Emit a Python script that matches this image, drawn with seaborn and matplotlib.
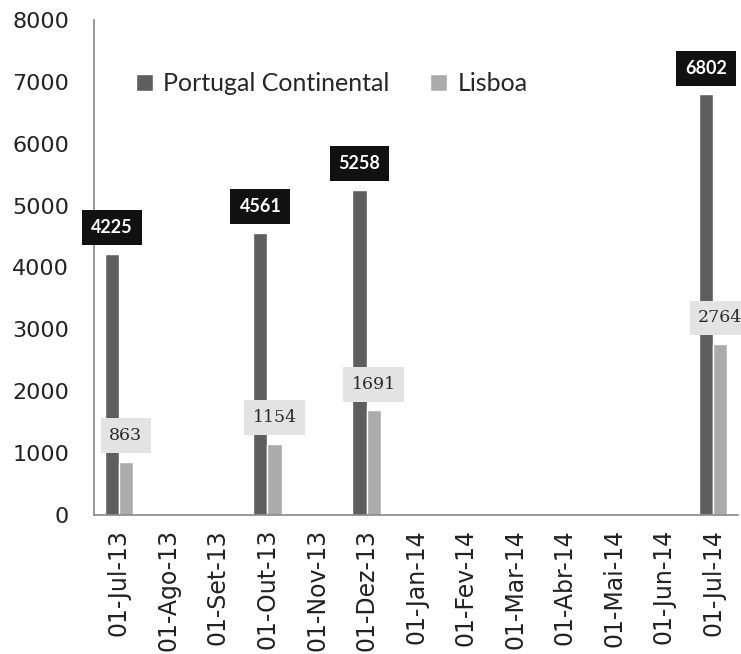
import numpy as np
import matplotlib.pyplot as plt
import pandas as pd
import seaborn as sns
from matplotlib.ticker import FixedLocator

# dados
datas = [
    "01-Jul-13", "01-Ago-13", "01-Set-13", "01-Out-13", "01-Nov-13",
    "01-Dez-13", "01-Jan-14", "01-Fev-14", "01-Mar-14", "01-Abr-14",
    "01-Mai-14", "01-Jun-14", "01-Jul-14",
]
nan = np.nan
portugal = [4225, nan, nan, 4561, nan, 5258, nan, nan, nan, nan, nan, nan, 6802]
lisboa = [863, nan, nan, 1154, nan, 1691, nan, nan, nan, nan, nan, nan, 2764]
series = ["Portugal Continental", "Lisboa"]
y_ticks = [0, 1000, 2000, 3000, 4000, 5000, 6000, 7000, 8000]

sns.set_style("white")
plt.rcParams["font.family"] = ["DejaVu Sans"]

df = pd.DataFrame(
    {
        "data": datas * 2,
        "valor": portugal + lisboa,
        "serie": [series[0]] * len(datas) + [series[1]] * len(datas),
    }
)

palette = {series[0]: "#5e5e5e", series[1]: "#ababab"}

fig = plt.figure(figsize=(7.41, 6.54), dpi=100)
ax = fig.add_axes([0.127, 0.2125, 0.869, 0.757])

sns.barplot(
    data=df,
    x="data",
    y="valor",
    hue="serie",
    order=datas,
    hue_order=series,
    palette=palette,
    width=0.57,
    saturation=1,
    errorbar=None,
    ax=ax,
)

# rotulos
for serie, cont in zip(series, ax.containers):
    for bar in cont:
        h = bar.get_height()
        if np.isnan(h) or h == 0:
            continue
        cx = bar.get_x() + bar.get_width() / 2
        if serie == series[0]:
            ax.text(
                cx, h + 420, f"{int(h)}", ha="center", va="center",
                fontsize=13, fontweight="bold", color="white", family="Lato",
                bbox=dict(boxstyle="square,pad=0.5", fc="#111111", ec="none"),
            )
        else:
            ax.text(
                cx, h + 420, f"{int(h)}", ha="center", va="center",
                fontsize=12.5, color="#2a2a2a", family="DejaVu Serif",
                bbox=dict(boxstyle="square,pad=0.5", fc="#e3e3e3", ec="none"),
            )

ax.set_xlim(-0.5, len(datas) - 0.5)
ax.set_ylim(0, 8000)
ax.set_yticks(y_ticks)
ax.set_xlabel("")
ax.set_ylabel("")

ax.set_xticks(range(len(datas)))
ax.set_xticklabels(datas, rotation=90, fontsize=17, color="#222222")
ax.xaxis.set_minor_locator(FixedLocator(np.arange(-0.5, len(datas), 1)))
ax.tick_params(axis="x", which="major", length=0, pad=10)
ax.tick_params(axis="x", which="minor", length=8, color="#888888", width=1)
ax.tick_params(axis="y", length=8, color="#888888", width=1, labelsize=16,
               labelcolor="#222222", pad=10)

for s in ["top", "right"]:
    ax.spines[s].set_visible(False)
for s in ["left", "bottom"]:
    ax.spines[s].set_color("#888888")
    ax.spines[s].set_linewidth(1.2)

ax.legend(
    loc="upper left", bbox_to_anchor=(0.03, 0.94), ncol=2, frameon=False,
    handlelength=0.7, handleheight=0.7, handletextpad=0.4, columnspacing=1.6,
    prop={"family": "Lato", "size": 18},
)

fig.savefig("out.png", dpi=100, facecolor="white")
